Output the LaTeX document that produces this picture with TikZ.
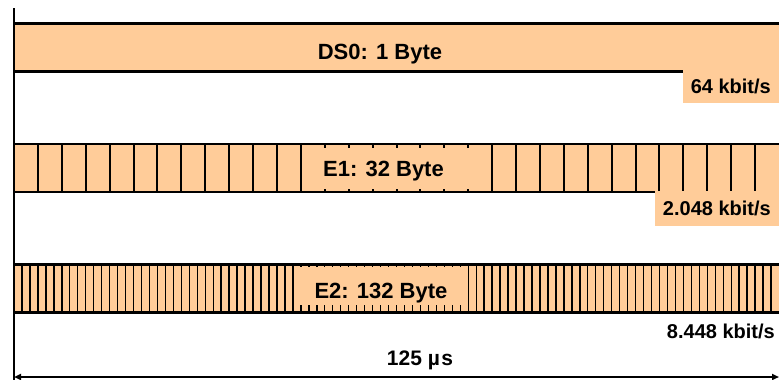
\documentclass[tikz,border=0pt]{standalone}
\usepackage{fontspec}
\setmainfont{Liberation Sans}
\usetikzlibrary{arrows.meta}
\definecolor{barfill}{HTML}{FFCC99}
\tikzset{
  bar/.style={fill=barfill, minimum width=765pt, minimum height=47.5pt, inner sep=0pt, anchor=west},
  edge/.style={line width=2.3pt},
  slot/.style={line width=2pt},
  fineslot/.style={line width=1.4pt},
  lbox/.style={fill=barfill, inner sep=0pt},
  ttl/.style={font=\fontsize{22}{26}\selectfont\bfseries, inner sep=0pt},
  rate/.style={font=\fontsize{20}{24}\selectfont\bfseries, inner sep=0pt},
  ratebox/.style={rate, fill=barfill, inner xsep=8pt, inner ysep=0pt, anchor=north east},
  dimarr/.style={{Triangle[length=7pt,width=6pt]}-{Triangle[length=7pt,width=6pt]}, line width=2pt},
}

\begin{document}
\begin{tikzpicture}[x=1pt,y=-1pt]
\useasboundingbox (0,0) rectangle (779,380);

% ===================== DS0: one slot ========================================
\node[bar] (ds0bar) at (14,47.5) {};
\draw[edge] (ds0bar.north west) -- (ds0bar.north east);
\draw[edge] (ds0bar.south west) -- (ds0bar.south east);
\node[ttl, anchor=base] (ds0ttl) at (380,59) {DS0: 1 Byte};
\node[ratebox, minimum height=33pt] (ds0rate) at (779,69.5) {64 kbit/s};

% ===================== E1: 32 slots =========================================
\node[bar] (e1bar) at (14,168) {};
\foreach \k in {1,...,31}
  \draw[slot] ([xshift=\k*23.906pt]e1bar.north west) -- ([xshift=\k*23.906pt]e1bar.south west);
\draw[edge] (e1bar.north west) -- (e1bar.north east);
\draw[edge] (e1bar.south west) -- (e1bar.south east);
\node[lbox, minimum width=168pt, minimum height=41pt] (e1box) at (387,168) {};
\node[ttl, anchor=base] (e1ttl) at (383.5,176.7) {E1: 32 Byte};
\node[ratebox, minimum height=35pt] (e1rate) at (779,190.5) {2.048 kbit/s};

% ===================== E2: fine slots =======================================
\node[bar] (e2bar) at (14,288.5) {};
\foreach \k in {1,...,95}
  \draw[fineslot] ([xshift=\k*7.969pt]e2bar.north west) -- ([xshift=\k*7.969pt]e2bar.south west);
\draw[edge] (e2bar.north west) -- (e2bar.north east);
\draw[edge] (e2bar.south west) -- (e2bar.south east);
\node[lbox, minimum width=168pt, minimum height=38pt] (e2box) at (379,286) {};
\node[ttl, anchor=base] (e2ttl) at (381,298) {E2: 132 Byte};
\node[rate, anchor=base east] (e2rate) at (775,338) {8.448 kbit/s};

% ===================== frame period =========================================
\coordinate (axtop) at (14,8);
\coordinate (axbot) at (14,380);
\draw[edge] (axtop) -- (axbot);
\coordinate (tl) at (14,377);
\coordinate (tr) at (779,377);
\draw[dimarr] (tl) -- (tr);
\node[rate, font=\fontsize{21}{25}\selectfont\bfseries, anchor=base] (period) at (420,365) {125 µ\kern1.5pt s};

\end{tikzpicture}
\end{document}
